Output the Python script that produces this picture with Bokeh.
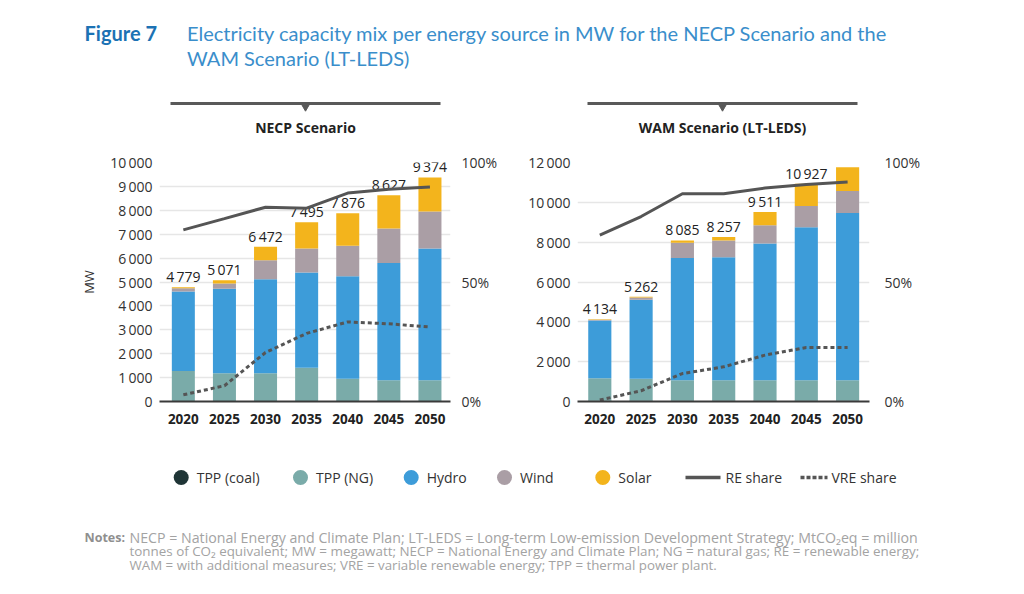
from bokeh.plotting import figure
from bokeh.models import Range1d, LinearAxis, FixedTicker, ColumnDataSource
from bokeh.layouts import column, row
from bokeh.embed import file_html
from bokeh.resources import INLINE
from bokeh.core.properties import value

# ---------------- data ----------------
years = ["2020", "2025", "2030", "2035", "2040", "2045", "2050"]
series = ["TPP (coal)", "TPP (NG)", "Hydro", "Wind", "Solar"]
colors = ["#1f3536", "#7aaba9", "#3d9cd9", "#aa9ea5", "#f3b41c"]

necp_coal = [0, 0, 0, 0, 0, 0, 0]
necp_ng = [1280, 1185, 1185, 1410, 950, 890, 890]
necp_hydro = [3320, 3530, 3935, 3990, 4295, 4900, 5510]
necp_wind = [140, 220, 795, 1005, 1270, 1450, 1550]
necp_solar = [39, 136, 557, 1090, 1361, 1387, 1424]
necp_re_share = [71.8, 76.5, 81.3, 80.9, 87.2, 88.8, 89.7]
necp_vre_share = [2.8, 6.6, 20.5, 28.5, 33.3, 32.5, 31.2]

wam_coal = [40, 40, 40, 40, 40, 40, 40]
wam_ng = [1130, 1100, 1030, 1030, 1030, 1030, 1030]
wam_hydro = [2900, 3965, 6140, 6175, 6860, 7680, 8400]
wam_wind = [40, 115, 755, 835, 920, 1070, 1105]
wam_solar = [24, 42, 120, 177, 661, 1107, 1185]
wam_re_share = [69.6, 77.4, 86.9, 86.9, 89.3, 90.8, 91.8]
wam_vre_share = [0.6, 4.5, 11.7, 14.5, 19.4, 22.6, 22.6]

pct_ticks = [0, 50, 100]
pct_labels = ["0%", "50%", "100%"]

title_bold = "Figure 7"
title_lines = ["Electricity capacity mix per energy source in MW for the NECP Scenario and the",
               "WAM Scenario (LT-LEDS)"]
scenario_titles = ["NECP Scenario", "WAM Scenario (LT-LEDS)"]
line_legend = ["RE share", "VRE share"]
notes_head = "Notes:"
notes_lines = [
    "NECP = National Energy and Climate Plan; LT-LEDS = Long-term Low-emission Development Strategy; MtCO\u2082eq = million",
    "tonnes of CO\u2082 equivalent; MW = megawatt; NECP = National Energy and Climate Plan; NG = natural gas; RE = renewable energy;",
    "WAM = with additional measures; VRE = variable renewable energy; TPP = thermal power plant.",
]

FONT = "Open Sans"
SP = "\u2009"


def fmt(v):
    return f"{v:,}".replace(",", SP)


def chart(width, bl, br, xr, ymax, ystep, stacks, re, vre, right_standoff, ylabel):
    p = figure(width=width, height=302, x_range=Range1d(*xr), y_range=Range1d(0, ymax),
               output_backend="svg", toolbar_location=None,
               min_border_left=bl, min_border_right=br, min_border_top=24, min_border_bottom=39)
    p.outline_line_color = None
    p.background_fill_color = "white"
    p.border_fill_color = "white"
    xs = list(range(len(years)))
    keys = ["coal", "ng", "hydro", "wind", "solar"]
    data = dict(x=xs)
    for k, v in zip(keys, stacks):
        data[k] = v
    src = ColumnDataSource(data)
    p.vbar_stack(keys, x="x", width=0.56, color=colors, line_color=None, source=src)

    totals = [sum(vals) for vals in zip(*stacks)]
    p.text(x=xs, y=totals, text=[fmt(t) for t in totals], text_align="center",
           text_baseline="bottom", y_offset=-1, text_font=value(FONT), text_font_size="14px",
           text_color="#222222")

    p.extra_y_ranges = {"pct": Range1d(0, 100)}
    p.line(xs, re, y_range_name="pct", line_color="#555555", line_width=3)
    p.line(xs, vre, y_range_name="pct", line_color="#555555", line_width=3, line_dash="4 3")

    # x axis
    xa = p.xaxis[0]
    xa.ticker = FixedTicker(ticks=xs)
    xa.major_label_overrides = {i: y for i, y in enumerate(years)}
    xa.major_tick_line_color = None
    xa.minor_tick_line_color = None
    xa.major_tick_out = 0
    xa.major_tick_in = 0
    xa.axis_line_color = "#3a3a3a"
    xa.axis_line_width = 2
    xa.major_label_standoff = 12
    xa.major_label_text_font = FONT
    xa.major_label_text_font_style = "bold"
    xa.major_label_text_font_size = "13.5px"
    xa.major_label_text_color = "#222222"

    # left axis
    yt = list(range(0, ymax + 1, ystep))
    ya = p.yaxis[0]
    ya.ticker = FixedTicker(ticks=yt)
    ya.major_label_overrides = {t: fmt(t) for t in yt}
    ya.axis_line_color = None
    ya.major_tick_line_color = None
    ya.minor_tick_line_color = None
    ya.major_tick_out = 0
    ya.major_tick_in = 0
    ya.major_label_standoff = 7
    ya.major_label_text_font = FONT
    ya.major_label_text_font_size = "14px"
    ya.major_label_text_color = "#333333"
    if ylabel:
        ya.axis_label = ylabel
        ya.axis_label_text_font = FONT
        ya.axis_label_text_font_style = "normal"
        ya.axis_label_text_font_size = "13px"
        ya.axis_label_text_color = "#333333"
        ya.axis_label_standoff = 9

    ra = LinearAxis(y_range_name="pct", ticker=FixedTicker(ticks=pct_ticks),
                    major_label_overrides={t: l for t, l in zip(pct_ticks, pct_labels)})
    ra.axis_line_color = None
    ra.major_tick_line_color = None
    ra.minor_tick_line_color = None
    ra.major_tick_out = 0
    ra.major_tick_in = 0
    ra.major_label_standoff = right_standoff
    ra.major_label_text_font = FONT
    ra.major_label_text_font_size = "14px"
    ra.major_label_text_color = "#333333"
    p.add_layout(ra, "right")

    p.xgrid.grid_line_color = None
    p.ygrid.grid_line_color = "#e6e6e6"
    p.ygrid.grid_line_width = 1.5
    return p


left = chart(510, 159, 60, (-0.58, 6.5), 10000, 1000,
             [necp_coal, necp_ng, necp_hydro, necp_wind, necp_solar],
             necp_re_share, necp_vre_share, 11, "MW")
right = chart(506, 67, 147, (-0.54, 6.53), 12000, 2000,
              [wam_coal, wam_ng, wam_hydro, wam_wind, wam_solar],
              wam_re_share, wam_vre_share, 15, None)

# ---------------- header ----------------
head = figure(width=1016, height=138, x_range=Range1d(0, 1016), y_range=Range1d(138, 0),
              output_backend="svg", toolbar_location=None, min_border=0)
head.axis.visible = False
head.grid.visible = False
head.outline_line_color = None
head.text(x=[84], y=[32], text=[title_bold], text_font=value("Lato"), text_font_style="bold",
          text_font_size="20px", text_color="#1c72b4", text_baseline="middle")
head.text(x=[186.5, 186.5], y=[32, 57], text=title_lines, text_font=value("Lato"),
          text_font_size="20px", text_color="#3a8ecb", text_baseline="middle")
hx0 = [170, 587]
hx1 = [440, 857]
hc = [(a + b) / 2 for a, b in zip(hx0, hx1)]
head.segment(x0=hx0, y0=[103, 103], x1=hx1, y1=[103, 103], line_color="#595959", line_width=3)
head.scatter(x=hc, y=[105.5, 105.5], marker="inverted_triangle", size=9, fill_color="#595959",
             line_color="#595959")
head.text(x=hc, y=[127, 127], text=scenario_titles, text_font=value(FONT), text_font_style="bold",
          text_font_size="14px", text_color="#222222", text_align="center", text_baseline="middle")

# ---------------- legend + notes ----------------
foot = figure(width=1016, height=146, x_range=Range1d(0, 1016), y_range=Range1d(586, 440),
              output_backend="svg", toolbar_location=None, min_border=0)
foot.axis.visible = False
foot.grid.visible = False
foot.outline_line_color = None
cx = [180.7, 300, 410.7, 504, 602.3]
foot.scatter(x=cx, y=[477] * 5, size=15, fill_color=colors, line_color=None)
foot.text(x=[c + 15.5 for c in cx], y=[477] * 5, text=series, text_font=value(FONT),
          text_font_size="14px", text_color="#333333", text_baseline="middle")
foot.segment(x0=[685], y0=[477], x1=[720], y1=[477], line_color="#555555", line_width=3.5)
foot.segment(x0=[800], y0=[477], x1=[827], y1=[477], line_color="#555555", line_width=3.5,
             line_dash="4 2")
foot.text(x=[725, 831], y=[477, 477], text=line_legend, text_font=value(FONT),
          text_font_size="14px", text_color="#333333", text_baseline="middle")
foot.text(x=[84], y=[537], text=[notes_head], text_font=value(FONT), text_font_style="bold",
          text_font_size="12.5px", text_color="#8f8f8f", text_baseline="middle")
note_sizes = ["14.2px", "13.4px", "13.3px"]
for ln, yy, fs in zip(notes_lines, [537, 550.5, 564], note_sizes):
    foot.text(x=[129], y=[yy], text=[ln], text_font=value(FONT),
              text_font_size=fs, text_color="#a3a3a3", text_baseline="middle")

layout = column(head, row(left, right), foot)
open("out.html", "w").write(file_html(layout, INLINE))
